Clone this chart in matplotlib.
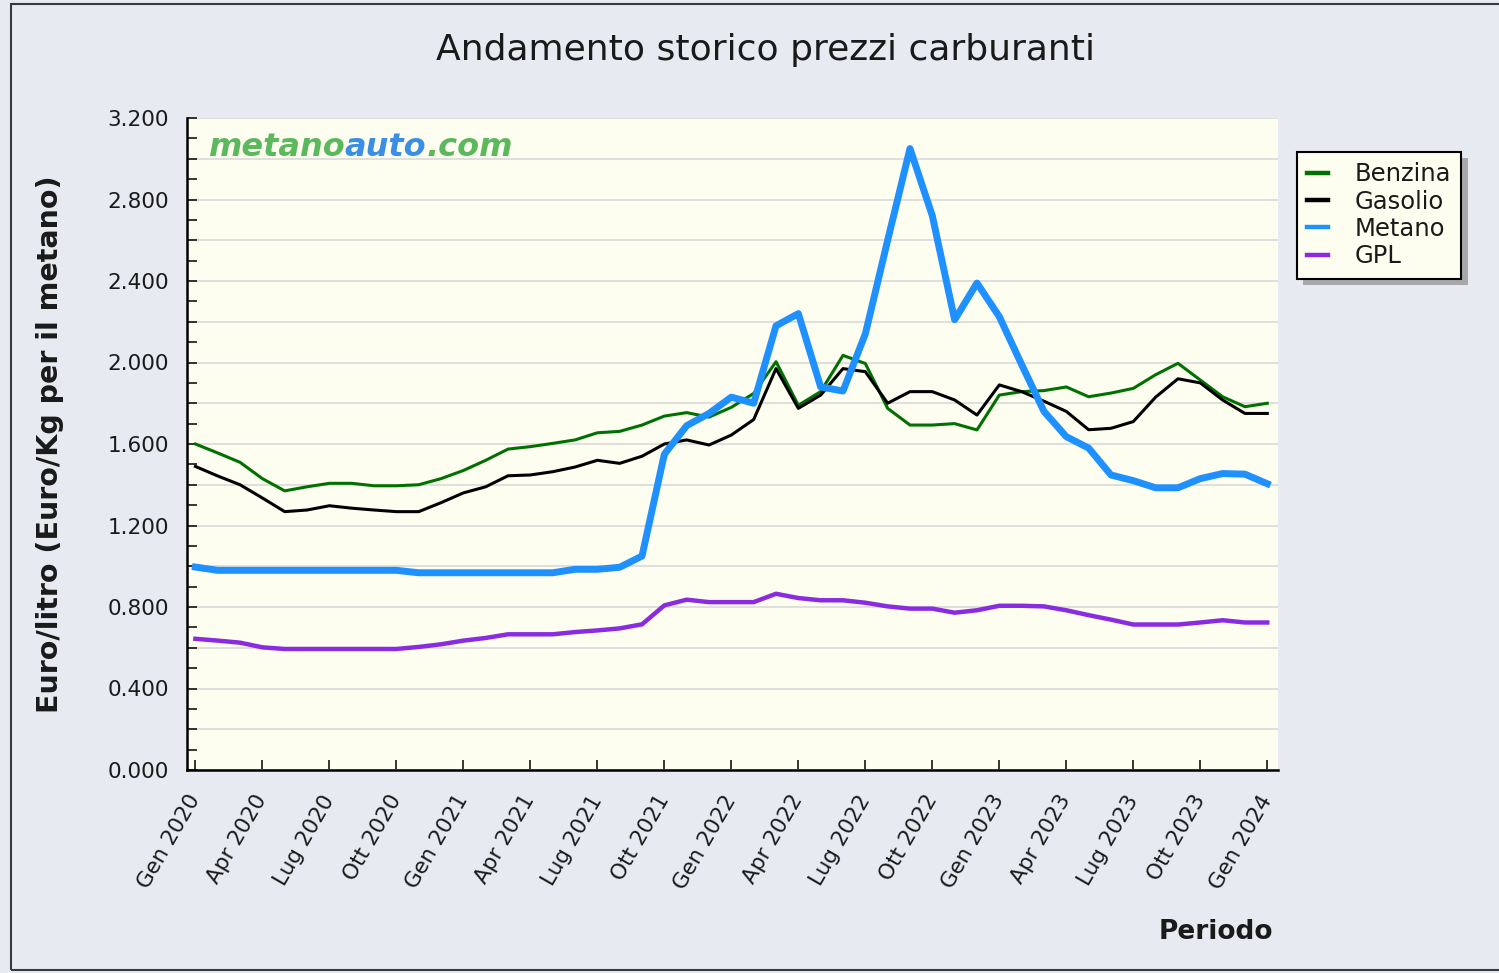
import numpy as np
import matplotlib
matplotlib.use("Agg")
from matplotlib import pyplot as plt
from matplotlib.lines import Line2D
from matplotlib.patches import Rectangle
from matplotlib.offsetbox import TextArea, HPacker, AnchoredOffsetbox
from matplotlib.ticker import MultipleLocator, FuncFormatter

mesi = ["Gen", "Feb", "Mar", "Apr", "Mag", "Giu", "Lug", "Ago", "Set", "Ott", "Nov", "Dic"]
anni = [2020, 2021, 2022, 2023, 2024]
periodi = [f"{m} {a}" for a in anni for m in mesi][:49]

benzina = [1.600, 1.556, 1.510, 1.430, 1.370, 1.390, 1.407, 1.407, 1.395, 1.395,
           1.400, 1.430, 1.470, 1.520, 1.575, 1.587, 1.603, 1.620, 1.655, 1.662,
           1.693, 1.737, 1.754, 1.732, 1.780, 1.848, 2.004, 1.790, 1.857, 2.035,
           1.995, 1.775, 1.693, 1.693, 1.700, 1.669, 1.840, 1.857, 1.862, 1.880,
           1.832, 1.850, 1.873, 1.940, 1.996, 1.914, 1.832, 1.783, 1.800]
gasolio = [1.490, 1.443, 1.400, 1.335, 1.268, 1.276, 1.297, 1.285, 1.276, 1.268,
           1.268, 1.312, 1.360, 1.390, 1.444, 1.448, 1.464, 1.487, 1.520, 1.505,
           1.540, 1.600, 1.620, 1.595, 1.644, 1.720, 1.970, 1.775, 1.840, 1.970,
           1.955, 1.800, 1.857, 1.857, 1.816, 1.742, 1.890, 1.857, 1.810, 1.760,
           1.670, 1.677, 1.710, 1.830, 1.920, 1.900, 1.816, 1.750, 1.750]
metano = [0.996, 0.980, 0.980, 0.980, 0.980, 0.980, 0.980, 0.980, 0.980, 0.980,
          0.968, 0.968, 0.968, 0.968, 0.968, 0.968, 0.968, 0.985, 0.985, 0.995,
          1.050, 1.550, 1.690, 1.750, 1.830, 1.800, 2.180, 2.240, 1.880, 1.860,
          2.140, 2.600, 3.050, 2.720, 2.210, 2.390, 2.225, 1.990, 1.760, 1.636,
          1.580, 1.448, 1.420, 1.385, 1.385, 1.430, 1.455, 1.452, 1.405]
gpl = [0.644, 0.635, 0.625, 0.602, 0.594, 0.594, 0.594, 0.594, 0.594, 0.594,
       0.604, 0.617, 0.635, 0.648, 0.666, 0.666, 0.666, 0.677, 0.685, 0.695,
       0.715, 0.808, 0.836, 0.824, 0.824, 0.824, 0.865, 0.844, 0.833, 0.833,
       0.821, 0.803, 0.792, 0.792, 0.772, 0.784, 0.806, 0.806, 0.803, 0.784,
       0.760, 0.738, 0.714, 0.714, 0.714, 0.724, 0.735, 0.724, 0.724]

serie = ["Benzina", "Gasolio", "Metano", "GPL"]
colori = ["#007000", "#000000", "#1e90ff", "#8a2be2"]
spessori = [2.2, 2.2, 5.0, 3.2]

W, H = 1499, 973
fig = plt.figure(figsize=(W / 100, H / 100), dpi=100)
fig.patch.set_facecolor("#e8eaf2")
fig.patches.append(Rectangle((11 / W, 3 / H), 1.0, (970 - 4) / H, transform=fig.transFigure,
                             fill=False, edgecolor="#3a3a3a", lw=1.5))

ax = fig.add_axes([187 / W, 1 - 770 / H, (1278 - 187) / W, (770 - 118) / H])
ax.set_facecolor("#fdfef0")

x = np.arange(len(periodi))
for nome, dati, col, lw in zip(serie, [benzina, gasolio, metano, gpl], colori, spessori):
    ax.plot(x, dati, color=col, lw=lw, label=nome, zorder=3)

ax.set_xlim(-0.376, 48.48)
ax.set_ylim(0, 3.2)

ax.yaxis.set_major_locator(MultipleLocator(0.2))
ax.yaxis.set_minor_locator(MultipleLocator(0.1))
ax.yaxis.set_major_formatter(FuncFormatter(
    lambda v, p: f"{v:.3f}" if abs(v / 0.4 - round(v / 0.4)) < 1e-6 else ""))
ax.grid(axis="y", which="major", color="#dcdcdc", lw=1.3, zorder=0)
ax.set_axisbelow(True)

ax.set_xticks(x[::3])
ax.set_xticklabels(periodi[::3], rotation=60, ha="right", va="center", rotation_mode="anchor")

ax.tick_params(axis="both", which="both", direction="in", length=7.5, width=1.1,
               color="black", labelsize=15.5, labelcolor="#1a1a1a")
ax.tick_params(axis="y", which="major", pad=13)
ax.tick_params(axis="x", which="major", pad=19)

for s in ["top", "right"]:
    ax.spines[s].set_visible(False)
for s in ["left", "bottom"]:
    ax.spines[s].set_linewidth(1.8)
    ax.spines[s].set_color("black")

fig.text(766 / W, 1 - 50 / H, "Andamento storico prezzi carburanti", ha="center", va="center",
         fontsize=26, color="#1a1a1a")
fig.text(50 / W, 1 - 444 / H, "Euro/litro (Euro/Kg per il metano)", rotation=90,
         ha="center", va="center", fontsize=20.5, fontweight="bold", color="#1a1a1a")
fig.text(1273 / W, 1 - 932 / H, "Periodo", ha="right", va="center", fontsize=19,
         fontweight="bold", color="#1a1a1a")

# watermark
logo_font = dict(fontsize=23, fontweight="bold", fontstyle="italic")
pezzi = [TextArea("metano", textprops=dict(color="#5cb85c", **logo_font)),
         TextArea("auto", textprops=dict(color="#3a8ee6", **logo_font)),
         TextArea(".com", textprops=dict(color="#5cb85c", **logo_font))]
logo = HPacker(children=pezzi, sep=0, pad=0, align="baseline")
ax.add_artist(AnchoredOffsetbox(loc="upper left", child=logo, pad=0, borderpad=0, frameon=False,
                                bbox_to_anchor=(0.019, 0.978), bbox_transform=ax.transAxes))

handles = [Line2D([], [], color=c, lw=3.2) for c in colori]
leg = ax.legend(handles, serie, loc="upper left", bbox_to_anchor=(1.0174, 0.948),
                borderaxespad=0, fontsize=17.5, handlelength=0.85, handletextpad=1.1,
                labelspacing=0.14, borderpad=0.42, fancybox=False, framealpha=1,
                facecolor="#fdfef0", edgecolor="black",
                shadow={"ox": 4.5, "oy": -4.5, "facecolor": "#a8a8a8", "edgecolor": "none", "alpha": 1})
leg.get_frame().set_linewidth(1.5)
for t in leg.get_texts():
    t.set_color("#1a1a1a")

fig.savefig("out.png", dpi=100, facecolor=fig.get_facecolor())
